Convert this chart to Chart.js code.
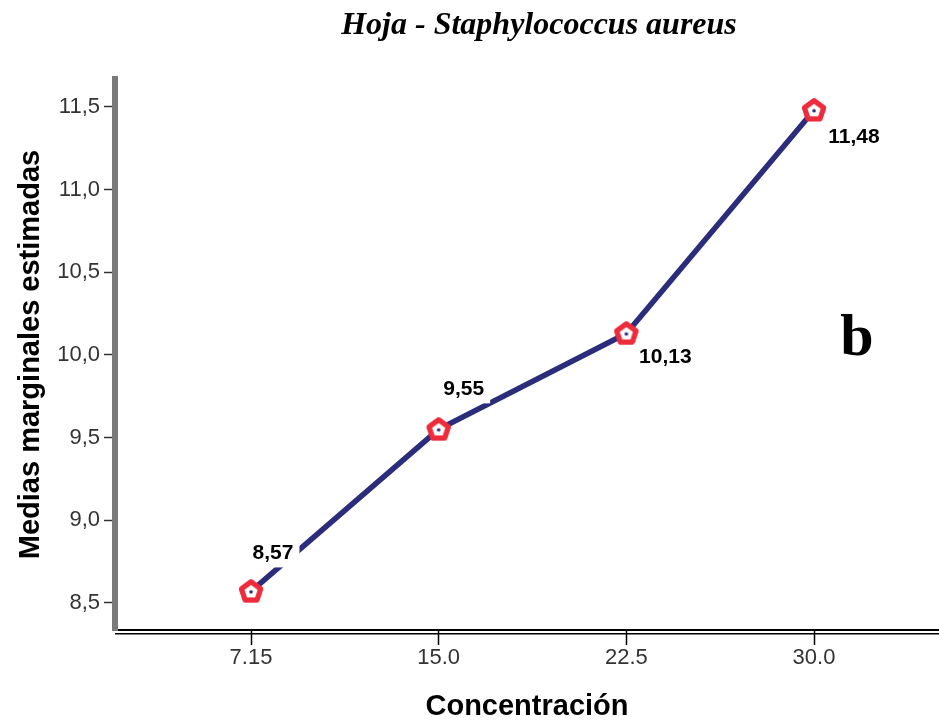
<!DOCTYPE html>
<html>
<head>
<meta charset="utf-8">
<script src="https://cdn.jsdelivr.net/npm/chart.js@4.4.1/dist/chart.umd.min.js"></script>
<style>
  html,body{margin:0;background:#fff;overflow:hidden;}
  #wrap{width:939px;height:720px;}
  canvas{display:block;}
</style>
</head>
<body>
<div id="wrap"><canvas id="chart" width="939" height="720"></canvas></div>
<script>
// chart data
const concentraciones = ['7.15','15.0','22.5','30.0'];
const medias = [8.57, 9.55, 10.13, 11.48];
const yTicks = [8.5, 9.0, 9.5, 10.0, 10.5, 11.0, 11.5];
const tituloGrafico = 'Hoja - Staphylococcus aureus';
const letraPanel = 'b';

// label placement relative to each point (dx, dy)
const labelOffsets = [[22,-38],[25,-40],[39,24],[40,27]];

const LINE_COLOR = '#2b2d7c';
const MARK_COLOR = '#ee2b3b';

function pentagonMarker(){
  const c = document.createElement('canvas');
  c.width = 28; c.height = 28;
  const g = c.getContext('2d');
  const cx = 14, cy = 14.5, r = 10;
  g.beginPath();
  for(let i=0;i<5;i++){
    const a = -Math.PI/2 + i*2*Math.PI/5;
    const px = cx + r*Math.cos(a), py = cy + r*Math.sin(a);
    if(i===0) g.moveTo(px,py); else g.lineTo(px,py);
  }
  g.closePath();
  g.fillStyle = '#fff';
  g.fill();
  g.lineWidth = 5;
  g.lineJoin = 'round';
  g.strokeStyle = MARK_COLOR;
  g.stroke();
  g.beginPath();
  g.arc(cx, cy, 1.8, 0, Math.PI*2);
  g.fillStyle = LINE_COLOR;
  g.fill();
  return c;
}

const fmt = (v,d)=>v.toFixed(d).replace('.',',');

const decorPlugin = {
  id:'decor',
  afterDatasetsDraw(chart){
    const ctx = chart.ctx;
    const meta = chart.getDatasetMeta(0);
    ctx.save();
    ctx.font = 'bold 21px "Liberation Sans", Arial, sans-serif';
    ctx.textAlign = 'center';
    ctx.textBaseline = 'middle';
    meta.data.forEach((pt,i)=>{
      const txt = fmt(medias[i],2);
      const x = pt.x + labelOffsets[i][0], y = pt.y + labelOffsets[i][1];
      const w = ctx.measureText(txt).width;
      ctx.fillStyle = '#fff';
      ctx.fillRect(x - w/2 - 6, y - 14, w + 12, 28);
      ctx.fillStyle = '#000';
      ctx.fillText(txt, x, y);
    });
    // redraw markers above label boxes
    meta.data.forEach(pt=>pt.draw(ctx, chart.chartArea));
    ctx.restore();
  },
  afterDraw(chart){
    const ctx = chart.ctx;
    const a = chart.chartArea;
    ctx.save();
    // second line of the double x axis
    ctx.strokeStyle = '#000';
    ctx.lineWidth = 1.5;
    ctx.beginPath();
    ctx.moveTo(a.left, a.bottom + 3.75);
    ctx.lineTo(a.right, a.bottom + 3.75);
    ctx.stroke();
    // title
    ctx.fillStyle = '#000';
    ctx.textAlign = 'center';
    ctx.textBaseline = 'middle';
    ctx.font = 'bold italic 32px "Liberation Serif", "DejaVu Serif", serif';
    ctx.fillText(tituloGrafico, 539, 26);
    // panel letter
    ctx.textBaseline = 'alphabetic';
    ctx.font = 'bold 60px "Liberation Serif", "DejaVu Serif", serif';
    ctx.fillText(letraPanel, 857, 355);
    ctx.restore();
  }
};

new Chart(document.getElementById('chart'),{
  type:'line',
  data:{
    datasets:[{
      data: medias.map((v,i)=>({x:i+1, y:v})),
      borderColor: LINE_COLOR,
      borderWidth: 5.5,
      pointStyle: pentagonMarker(),
      pointRadius: 11,
      tension: 0,
      clip: false
    }]
  },
  options:{
    responsive:false,
    animation:false,
    layout:{autoPadding:false, padding:{top:79,left:0,right:0,bottom:0}},
    plugins:{legend:{display:false}, tooltip:{enabled:false}, title:{display:false}},
    scales:{
      x:{
        type:'linear',
        min:0.2753, max:4.666,
        afterBuildTicks: s=>{ s.ticks = concentraciones.map((c,i)=>({value:i+1})); },
        afterFit: s=>{ s.height = 90; },
        ticks:{
          callback:(v)=>concentraciones[v-1],
          color:'#333',
          padding:0,
          maxRotation:0,
          font:{family:'"Liberation Sans", Arial, sans-serif', size:22}
        },
        grid:{drawOnChartArea:false, drawTicks:true, tickLength:15, color:'#000', tickWidth:1.5},
        border:{display:true, color:'#000', width:2},
        title:{
          display:true, text:'Concentración', color:'#000',
          padding:{top:0,bottom:-4},
          font:{family:'"Liberation Sans", Arial, sans-serif', size:29, weight:'bold'}
        }
      },
      y:{
        min:8.3367, max:11.669,
        afterBuildTicks: s=>{ s.ticks = yTicks.map(v=>({value:v})); },
        afterFit: s=>{ s.width = 115; },
        ticks:{
          callback:(v)=>fmt(v,1),
          color:'#333',
          padding:4,
          font:{family:'"Liberation Sans", Arial, sans-serif', size:22}
        },
        grid:{drawOnChartArea:false, drawTicks:true, tickLength:11, color:'#333', tickWidth:1.5},
        border:{display:true, color:'#7a7a7a', width:6},
        title:{
          display:true, text:'Medias marginales estimadas', color:'#000',
          padding:{top:14,bottom:0},
          font:{family:'"Liberation Sans", Arial, sans-serif', size:29, weight:'bold'}
        }
      }
    }
  },
  plugins:[decorPlugin]
});
</script>
</body>
</html>
